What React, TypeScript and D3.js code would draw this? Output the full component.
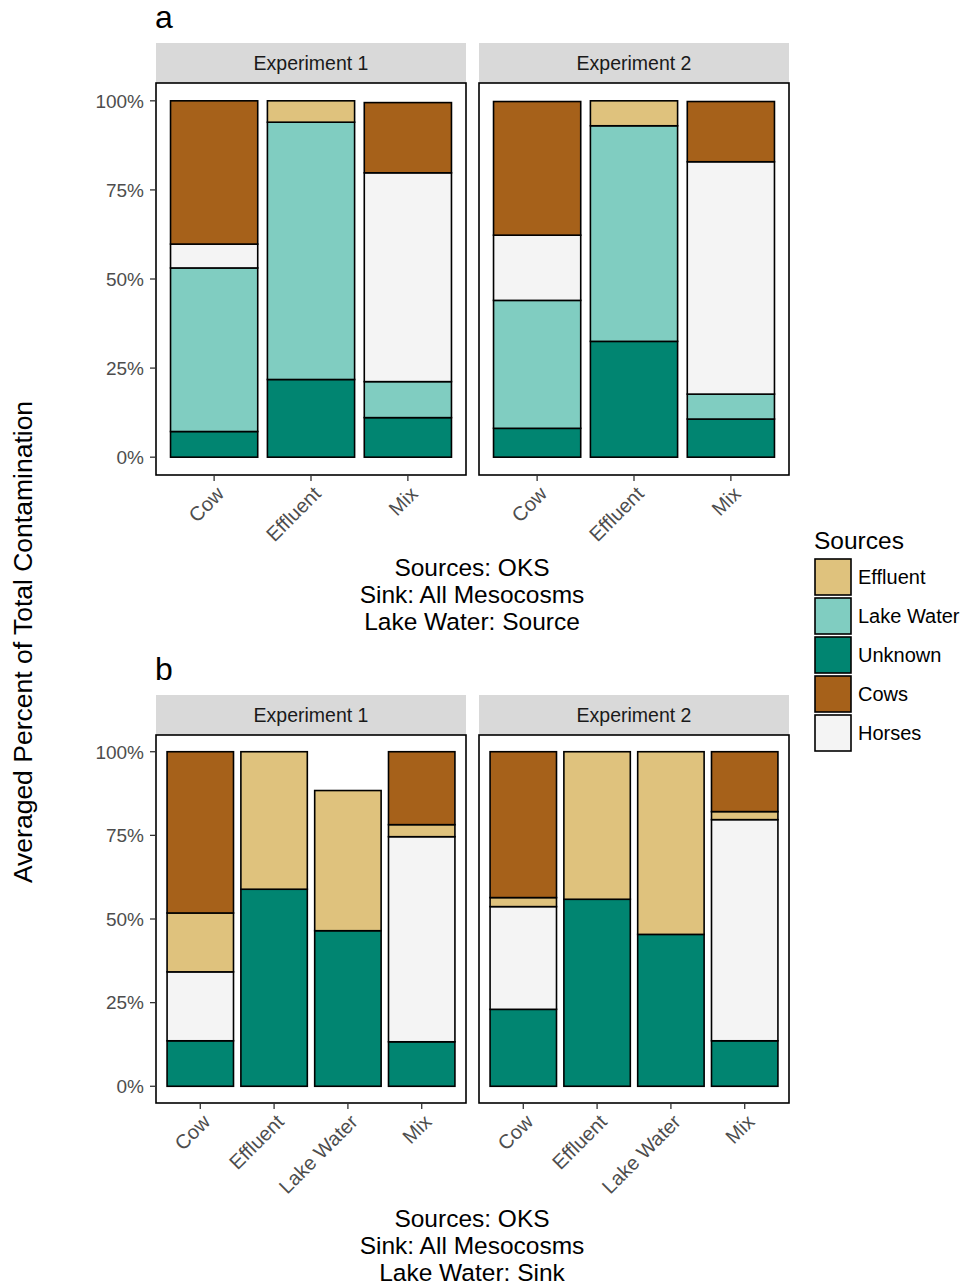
import React from "react";
import * as d3 from "d3";

// source colours (BrBG-ish)
const sources = ["Effluent", "Lake Water", "Unknown", "Cows", "Horses"];
const sourceColors = ["#DFC27D", "#80CDC1", "#018571", "#A6611A", "#F4F4F4"];
// bottom -> top stacking order
const stackOrder = ["Unknown", "Lake Water", "Horses", "Effluent", "Cows"];

const experiments = ["Experiment 1", "Experiment 2"];
const yTicks = [0, 25, 50, 75, 100];

// panel a: Lake Water as a source
const catsA = ["Cow", "Effluent", "Mix"];
const aExp1Unknown = [7.2, 21.8, 11.1];
const aExp1Lake = [45.9, 72.2, 10.1];
const aExp1Horses = [6.7, 0, 58.6];
const aExp1Effluent = [0, 6.0, 0];
const aExp1Cows = [40.2, 0, 19.7];
const aExp2Unknown = [8.1, 32.5, 10.7];
const aExp2Lake = [35.9, 60.5, 7.0];
const aExp2Horses = [18.3, 0, 65.2];
const aExp2Effluent = [0, 7.0, 0];
const aExp2Cows = [37.5, 0, 16.9];

// panel b: Lake Water as a sink
const catsB = ["Cow", "Effluent", "Lake Water", "Mix"];
const bExp1Unknown = [13.6, 58.9, 46.5, 13.3];
const bExp1Lake = [0, 0, 0, 0];
const bExp1Horses = [20.6, 0, 0, 61.3];
const bExp1Effluent = [17.6, 41.1, 41.9, 3.6];
const bExp1Cows = [48.2, 0, 0, 21.8];
const bExp2Unknown = [23.0, 55.9, 45.4, 13.6];
const bExp2Lake = [0, 0, 0, 0];
const bExp2Horses = [30.7, 0, 0, 66.1];
const bExp2Effluent = [2.7, 44.1, 54.6, 2.4];
const bExp2Cows = [43.6, 0, 0, 17.9];

const captionA = ["Sources: OKS", "Sink: All Mesocosms", "Lake Water: Source"];
const captionB = ["Sources: OKS", "Sink: All Mesocosms", "Lake Water: Sink"];

const FONT = "'Liberation Sans', Arial, Helvetica, sans-serif";
const color = d3.scaleOrdinal<string, string>().domain(sources).range(sourceColors);

function rows(cats: string[], u: number[], l: number[], h: number[], e: number[], c: number[]) {
  return cats.map((cat, i) => ({
    cat,
    Unknown: u[i],
    "Lake Water": l[i],
    Horses: h[i],
    Effluent: e[i],
    Cows: c[i],
  }));
}

const panelA = [
  rows(catsA, aExp1Unknown, aExp1Lake, aExp1Horses, aExp1Effluent, aExp1Cows),
  rows(catsA, aExp2Unknown, aExp2Lake, aExp2Horses, aExp2Effluent, aExp2Cows),
];
const panelB = [
  rows(catsB, bExp1Unknown, bExp1Lake, bExp1Horses, bExp1Effluent, bExp1Cows),
  rows(catsB, bExp2Unknown, bExp2Lake, bExp2Horses, bExp2Effluent, bExp2Cows),
];

const facetX = [156, 479];
const facetW = 310;

function Facet({ data, cats, x0, top, bottom, stripTop, title, showY }: any) {
  const n = cats.length;
  const y = d3.scaleLinear().domain([-5, 105]).range([bottom, top]);
  const unit = facetW / (n - 1 + 1.2);
  const xc = (i: number) => x0 + unit * (0.6 + i);
  const bw = unit * 0.9;
  const series = d3.stack<any>().keys(stackOrder)(data);
  return (
    <g>
      <rect x={x0} y={stripTop} width={facetW} height={top - stripTop} fill="#D9D9D9" />
      <text x={x0 + facetW / 2} y={(stripTop + top) / 2} dy="0.36em" textAnchor="middle"
        fontSize={19.5} fill="#1A1A1A" fontFamily={FONT}>{title}</text>
      <rect x={x0} y={top} width={facetW} height={bottom - top} fill="#fff" />
      {series.map((s) =>
        s.map((d, i) =>
          d[1] - d[0] > 0 ? (
            <rect key={s.key + i} x={xc(i) - bw / 2} y={y(d[1])} width={bw}
              height={y(d[0]) - y(d[1])} fill={color(s.key)} stroke="#000" strokeWidth={1.6} />
          ) : null
        )
      )}
      <rect x={x0} y={top} width={facetW} height={bottom - top} fill="none" stroke="#000" strokeWidth={1.6} />
      {showY && yTicks.map((t) => (
        <g key={t}>
          <line x1={x0 - 6} x2={x0} y1={y(t)} y2={y(t)} stroke="#333" strokeWidth={1.3} />
          <text x={x0 - 12} y={y(t)} dy="0.36em" textAnchor="end" fontSize={19}
            fill="#4D4D4D" fontFamily={FONT}>{t + "%"}</text>
        </g>
      ))}
      {cats.map((c: string, i: number) => (
        <g key={c}>
          <line x1={xc(i)} x2={xc(i)} y1={bottom} y2={bottom + 6} stroke="#333" strokeWidth={1.3} />
          <text transform={`translate(${xc(i) + 6},${bottom + 15}) rotate(-45)`} textAnchor="end"
            dy="0.36em" fontSize={20} fill="#4D4D4D" fontFamily={FONT}>{c}</text>
        </g>
      ))}
    </g>
  );
}

function Panel({ data, cats, top, bottom, stripTop, label, caption, captionY }: any) {
  return (
    <g>
      <text x={155} y={stripTop - 15} fontSize={32} fill="#000" fontFamily={FONT}>{label}</text>
      {experiments.map((e, k) => (
        <Facet key={e} data={data[k]} cats={cats} x0={facetX[k]} top={top} bottom={bottom}
          stripTop={stripTop} title={e} showY={k === 0} />
      ))}
      {caption.map((line: string, i: number) => (
        <text key={line} x={472} y={captionY + i * 27} dy="0.36em" textAnchor="middle"
          fontSize={24.5} fill="#000" fontFamily={FONT}>{line}</text>
      ))}
    </g>
  );
}

export default function App() {
  return (
    <svg width={966} height={1285} style={{ position: "absolute", left: 0, top: 0, background: "#fff" }}>
      <rect width={966} height={1285} fill="#fff" />
      <Panel data={panelA} cats={catsA} top={83} bottom={475} stripTop={43} label="a"
        caption={captionA} captionY={567} />
      <Panel data={panelB} cats={catsB} top={735} bottom={1103} stripTop={695} label="b"
        caption={captionB} captionY={1218} />
      <text transform="translate(22,642) rotate(-90)" dy="0.36em" textAnchor="middle" fontSize={26.5}
        fill="#000" fontFamily={FONT}>Averaged Percent of Total Contamination</text>
      <text x={814} y={540} dy="0.36em" fontSize={24.5} fill="#000" fontFamily={FONT}>Sources</text>
      {sources.map((s, i) => (
        <g key={s}>
          <rect x={815} y={559 + i * 39} width={36} height={36} fill={color(s)} stroke="#000" strokeWidth={1.6} />
          <text x={858} y={577 + i * 39} dy="0.36em" fontSize={20} fill="#000" fontFamily={FONT}>{s}</text>
        </g>
      ))}
    </svg>
  );
}
